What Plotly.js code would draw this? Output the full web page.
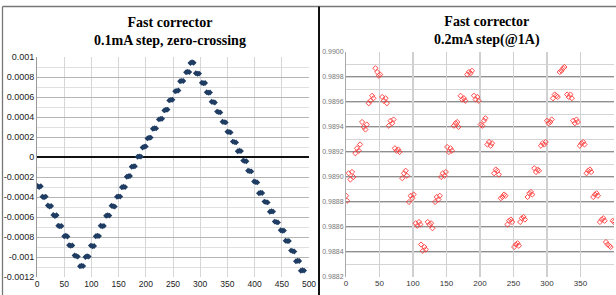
<!DOCTYPE html>
<html>
<head>
<meta charset="utf-8">
<script src="https://cdn.plot.ly/plotly-3.0.1.min.js"></script>
<style>html,body{margin:0;padding:0;background:#fff;}#chart{width:616px;height:295px;}</style>
</head>
<body>
<div id="chart"></div>
<script>
// ---- Left chart: 0.1mA step, zero-crossing ----
const leftTitle = "<b>Fast corrector</b><br><b>0.1mA step, zero-crossing</b>";
const leftX = [1,4,7, 10,13,16, 20,23,26, 30,33,36, 39,42,45, 50,53,56, 59,62,65, 69,72,75, 79,82,85, 89,92,95,
  99,102,105, 108,111,114, 117,120,123, 127,130,133, 137,140,143, 147,150,153, 156,159,162, 165,168,171, 174,177,180,
  185,188,191, 194,197,200, 203,206,209, 213,216,219, 224,227,230, 234,237,240, 243,246,249, 254,257,260, 263,266,269,
  274,277,280, 282,285,288, 292,295,298, 303,306,309, 312,315,318, 321,324,327, 331,334,337, 341,344,347, 350,353,356,
  360,363,366, 369,372,375, 379,382,385, 388,391,394, 399,402,405, 408,411,414, 418,421,424, 428,431,434, 437,440,443,
  448,451,454, 457,460,463, 467,470,473, 476,479,482, 485,488,491];
const leftY = [-0.000290,-0.000300,-0.000292, -0.000398,-0.000402,-0.000396, -0.000485,-0.000495,-0.000490,
  -0.000580,-0.000590,-0.000583, -0.000688,-0.000693,-0.000690, -0.000792,-0.000788,-0.000795,
  -0.000882,-0.000888,-0.000884, -0.000985,-0.000990,-0.000996, -0.001093,-0.001088,-0.001091,
  -0.001000,-0.000992,-0.000996, -0.000886,-0.000893,-0.000890, -0.000793,-0.000788,-0.000791,
  -0.000688,-0.000692,-0.000689, -0.000588,-0.000582,-0.000586, -0.000487,-0.000493,-0.000496,
  -0.000397,-0.000394,-0.000396, -0.000302,-0.000297,-0.000301, -0.000198,-0.000193,-0.000190,
  -0.000098,-0.000094,-0.000092, 0.000002,0.000006,0.000004, 0.000095,0.000102,0.000106,
  0.000186,0.000192,0.000194, 0.000282,0.000287,0.000286, 0.000376,0.000381,0.000383,
  0.000466,0.000472,0.000474, 0.000566,0.000571,0.000573, 0.000657,0.000661,0.000665,
  0.000758,0.000761,0.000760, 0.000848,0.000852,0.000849, 0.000940,0.000948,0.000942,
  0.000838,0.000832,0.000834, 0.000742,0.000738,0.000740, 0.000648,0.000643,0.000645,
  0.000553,0.000549,0.000545, 0.000454,0.000449,0.000446, 0.000353,0.000349,0.000346,
  0.000252,0.000250,0.000246, 0.000154,0.000149,0.000146, 0.000058,0.000062,0.000059,
  -0.000036,-0.000041,-0.000043, -0.000137,-0.000141,-0.000144, -0.000245,-0.000250,-0.000254,
  -0.000362,-0.000357,-0.000360, -0.000446,-0.000451,-0.000454, -0.000548,-0.000542,-0.000546,
  -0.000646,-0.000651,-0.000654, -0.000733,-0.000737,-0.000736, -0.000838,-0.000841,-0.000840,
  -0.000936,-0.000941,-0.000945, -0.001042,-0.001038,-0.001040, -0.001138,-0.001133,-0.001136];
const leftYTickVals = [0.001,0.0008,0.0006,0.0004,0.0002,0,-0.0002,-0.0004,-0.0006,-0.0008,-0.001,-0.0012];
const leftYTickText = ["0.001","0.0008","0.0006","0.0004","0.0002","0","-0.0002","-0.0004","-0.0006","-0.0008","-0.001","-0.0012"];
const leftXTickVals = [0,50,100,150,200,250,300,350,400,450,500];
const leftXTickText = ["0","50","100","150","200","250","300","350","400","450","500"];

// ---- Right chart: 0.2mA step (@1A) ----
const rightTitle = "<b>Fast corrector</b><br><b>0.2mA step(@1A)</b>";
const rightX = [0,1.5, 4,6.5,9,11, 14,16.5,19,21, 24,26.5,29,31, 34,36.5,39,41, 44,46.5,49,51,
  54,56.5,59,61, 64,66.5,69,71, 73,75.5,78,80, 84,86.5,89,91, 94,96.5,99,101, 104,106.5,109,111,
  112,114.5,117,119, 122,124.5,127,129, 133,135.5,138,140, 142,144.5,147,149, 151,153.5,156,158,
  161,163.5,166,168, 171,173.5,176,178, 181,183.5,186,188, 191,193.5,196,198, 201,203.5,206,208,
  211,213.5,216,218, 221,223.5,226,228, 231,233.5,236,238, 241,243.5,246,248, 251,253.5,256,258,
  260,262.5,265,267, 271,273.5,276,278, 281,283.5,286,288, 291,293.5,296,298, 300,302.5,305,307,
  309,311.5,314,316, 319,321.5,324,326, 330,332.5,335,337, 339,341.5,344,346, 349,351.5,354,356,
  359,361.5,364,366, 369,371.5,374,376, 379,381.5,384,386, 388,390.5,393,395, 398,400];
const rightY = [0.98885,0.98881, 0.98903,0.98898,0.98904,0.98900, 0.98919,0.98923,0.98921,0.98926,
  0.98944,0.98940,0.98938,0.98942, 0.98959,0.98961,0.98965,0.98963, 0.98987,0.98984,0.98981,0.98982,
  0.98964,0.98961,0.98963,0.98959, 0.98941,0.98945,0.98943,0.98946, 0.98923,0.98921,0.98922,0.98920,
  0.98899,0.98903,0.98905,0.98901, 0.98880,0.98885,0.98883,0.98886, 0.98863,0.98861,0.98864,0.98862,
  0.98846,0.98841,0.98844,0.98842, 0.98864,0.98862,0.98863,0.98859, 0.98880,0.98884,0.98882,0.98885,
  0.98900,0.98903,0.98901,0.98904, 0.98924,0.98920,0.98923,0.98921, 0.98941,0.98943,0.98944,0.98940,
  0.98965,0.98962,0.98963,0.98961, 0.98982,0.98984,0.98983,0.98985, 0.98965,0.98962,0.98964,0.98961,
  0.98942,0.98941,0.98945,0.98947, 0.98926,0.98928,0.98925,0.98927, 0.98903,0.98906,0.98905,0.98902,
  0.98883,0.98884,0.98886,0.98885, 0.98862,0.98865,0.98866,0.98864, 0.98844,0.98846,0.98847,0.98845,
  0.98864,0.98867,0.98868,0.98866, 0.98884,0.98887,0.98888,0.98886, 0.98907,0.98904,0.98906,0.98905,
  0.98925,0.98927,0.98926,0.98928, 0.98945,0.98943,0.98944,0.98946, 0.98963,0.98966,0.98965,0.98964,
  0.98984,0.98985,0.98987,0.98988, 0.98966,0.98964,0.98966,0.98963, 0.98945,0.98943,0.98946,0.98944,
  0.98925,0.98927,0.98928,0.98926, 0.98903,0.98905,0.98906,0.98904, 0.98884,0.98886,0.98887,0.98885,
  0.98864,0.98866,0.98867,0.98865, 0.98848,0.98846,0.98845,0.98844, 0.98865,0.98864];
const rightYTickVals = [0.9900,0.9898,0.9896,0.9894,0.9892,0.9890,0.9888,0.9886,0.9884,0.9882];
const rightYTickText = ["0.9900","0.9898","0.9896","0.9894","0.9892","0.9890","0.9888","0.9886","0.9884","0.9882"];
const rightDarkGrid = [0.9898,0.9896,0.9894,0.9892,0.9890,0.9888,0.9886,0.9884];
const rightXTickVals = [0,50,100,150,200,250,300,350,400];
const rightXTickText = ["0","50","100","150","200","250","300","350","400"];

const W = 616, H = 295;
const px = v => v / W;
const py = v => 1 - v / H;

const tickFontFamily = "'Liberation Sans Narrow', 'Liberation Sans', Arial, sans-serif";

const traces = [
  {type:'scatter', mode:'markers', x:leftX, y:leftY, xaxis:'x', yaxis:'y',
   marker:{symbol:'diamond', size:4.5, color:'#1f3d63', line:{width:0}}, hoverinfo:'skip'},
  {type:'scatter', mode:'markers', x:rightX, y:rightY, xaxis:'x2', yaxis:'y2',
   marker:{symbol:'diamond-open', size:4, color:'#ff2d2d', line:{width:1}}, opacity:0.85, hoverinfo:'skip'}
];

const shapes = [
  // panel frames
  {type:'line', xref:'paper', yref:'paper', x0:px(2.5), x1:px(2.5), y0:py(6.5), y1:0, line:{color:'#777', width:1.3}},
  {type:'line', xref:'paper', yref:'paper', x0:px(2.5), x1:1, y0:py(6.5), y1:py(6.5), line:{color:'#777', width:1.3}},
  {type:'line', xref:'paper', yref:'paper', x0:px(319), x1:px(319), y0:py(6.5), y1:0, line:{color:'#111', width:2}}
];
rightDarkGrid.forEach(v => shapes.push({type:'line', layer:'below', xref:'x2 domain', yref:'y2', x0:0, x1:1, y0:v, y1:v,
  line:{color:'#6a6a6a', width:1.5}}));

const layout = {
  width:W, height:H, margin:{l:0,r:0,t:0,b:0},
  paper_bgcolor:'#fff', plot_bgcolor:'#fff', showlegend:false,
  font:{family:tickFontFamily, color:'#333'},
  xaxis:{domain:[px(37), px(309)], range:[0,500], tickmode:'array', tickvals:leftXTickVals, ticktext:leftXTickText,
    showgrid:true, gridcolor:'#d6d6d6', gridwidth:1, zeroline:false, showline:false, ticks:'',
    tickfont:{size:8.5, color:'#222'}, fixedrange:true},
  yaxis:{domain:[py(277), py(57)], range:[-0.0012, 0.001], tickmode:'array', tickvals:leftYTickVals, ticktext:leftYTickText,
    showgrid:true, gridcolor:'#b5b5b5', gridwidth:1, zeroline:true, zerolinecolor:'#111', zerolinewidth:1.5,
    showline:true, linecolor:'#999', linewidth:1, ticks:'',
    minor:{tickmode:'linear', tick0:0, dtick:0.0001, showgrid:true, gridcolor:'#e0e0e0', gridwidth:1, ticks:''},
    tickfont:{size:9, color:'#222'}, fixedrange:true},
  xaxis2:{domain:[px(346), px(614)], range:[0,400], anchor:'y2', tickmode:'array', tickvals:rightXTickVals, ticktext:rightXTickText,
    showgrid:true, gridcolor:'#d0d0d0', gridwidth:1.5, zeroline:false, showline:false, ticks:'',
    tickfont:{size:8, color:'#333'}, fixedrange:true},
  yaxis2:{domain:[py(277), py(52)], range:[0.9882, 0.9900], anchor:'x2', tickmode:'array', tickvals:rightYTickVals, ticktext:rightYTickText,
    showgrid:false, zeroline:false, showline:true, linecolor:'#aaa', linewidth:1, ticks:'',
    minor:{tickmode:'linear', tick0:0.9882, dtick:0.0001, showgrid:true, gridcolor:'#d4d4d4', gridwidth:1, ticks:''},
    tickfont:{size:7, color:'#777'}, fixedrange:true},
  annotations:[
    {text:leftTitle, xref:'paper', yref:'paper', x:px(170), y:py(32), xanchor:'center', yanchor:'middle', showarrow:false,
     font:{family:"'Liberation Serif', 'Times New Roman', serif", size:14, color:'#000'}},
    {text:rightTitle, xref:'paper', yref:'paper', x:px(487), y:py(31), xanchor:'center', yanchor:'middle', showarrow:false,
     font:{family:"'Liberation Serif', 'Times New Roman', serif", size:14, color:'#000'}}
  ],
  shapes:shapes
};

Plotly.newPlot('chart', traces, layout, {displayModeBar:false, staticPlot:true});
</script>
</body>
</html>
